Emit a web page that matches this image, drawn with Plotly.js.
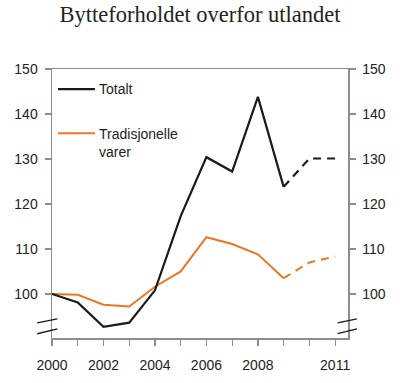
<!DOCTYPE html>
<html>
<head>
<meta charset="utf-8">
<script src="https://cdn.plot.ly/plotly-3.0.1.min.js"></script>
<style>html,body{margin:0;padding:0;background:#fff;}#chart{width:400px;height:383px;}</style>
</head>
<body>
<div id="chart"></div>
<script>
const years = [2000, 2001, 2002, 2003, 2004, 2005, 2006, 2007, 2008, 2009, 2010, 2011];
const totalt = [100, 98.1, 92.7, 93.6, 100.8, 117.3, 130.4, 127.2, 143.8, 123.8, 130.1, 130.1];
const tradisjonelle = [100, 99.8, 97.6, 97.2, 101.6, 105.0, 112.6, 111.1, 108.8, 103.5, 107.0, 108.3];
const lastActual = 2009;
const tickYears = [2000, 2001, 2002, 2003, 2004, 2005, 2006, 2007, 2008, 2009, 2010, 2011];
const tickLabels = ['2000', '', '2002', '', '2004', '', '2006', '', '2008', '', '', '2011'];
const yTicks = [100, 110, 120, 130, 140, 150];

const black = '#1a1a1a';
const orange = '#ee7623';

function split(xs, ys, solid) {
  const xo = [], yo = [];
  xs.forEach((x, i) => {
    if (solid ? x <= lastActual : x >= lastActual) { xo.push(x); yo.push(ys[i]); }
  });
  return {x: xo, y: yo};
}

const tS = split(years, totalt, true), tD = split(years, totalt, false);
const oS = split(years, tradisjonelle, true), oD = split(years, tradisjonelle, false);

const traces = [
  {x: oS.x, y: oS.y, mode: 'lines', line: {color: orange, width: 2}, showlegend: false, hoverinfo: 'skip'},
  {x: oD.x, y: oD.y, mode: 'lines', line: {color: orange, width: 2, dash: '8px,6px'}, showlegend: false, hoverinfo: 'skip'},
  {x: tS.x, y: tS.y, mode: 'lines', line: {color: black, width: 2.2}, showlegend: false, hoverinfo: 'skip'},
  {x: tD.x, y: tD.y, mode: 'lines', line: {color: black, width: 2.2, dash: '8px,6px'}, showlegend: false, hoverinfo: 'skip'},
  {x: [years[0]], y: [totalt[0]], yaxis: 'y2', mode: 'markers', marker: {opacity: 0}, showlegend: false, hoverinfo: 'skip'}
];

const yRange = [90.2, 150];
const axisColor = '#8c8c8c';
const tickFont = {family: 'Liberation Sans, Arial, sans-serif', size: 14, color: '#222'};

const layout = {
  width: 400, height: 383,
  margin: {l: 52, r: 52, t: 69, b: 45},
  paper_bgcolor: '#fff', plot_bgcolor: '#fff',
  title: {text: 'Bytteforholdet overfor utlandet', x: 0.5, xanchor: 'center', yref: 'container', y: 0.964, yanchor: 'middle',
          font: {family: 'Liberation Serif, Times New Roman, serif', size: 22.5, color: '#222'}},
  xaxis: {range: [2000, 2011.5], tickvals: tickYears, ticktext: tickLabels, ticks: 'outside', ticklen: 6,
          tickcolor: axisColor, tickwidth: 1.2, showline: true, linecolor: axisColor, linewidth: 1.5,
          mirror: true, showgrid: false, zeroline: false, tickfont: tickFont, ticklabelstandoff: 8},
  yaxis: {range: yRange, tickvals: yTicks, ticks: 'outside', ticklen: 6, tickcolor: axisColor, tickwidth: 1.2,
          showline: true, linecolor: axisColor, linewidth: 1.5, showgrid: false, zeroline: false,
          tickfont: tickFont, ticklabelstandoff: 4},
  yaxis2: {range: yRange, tickvals: yTicks, overlaying: 'y', side: 'right', ticks: 'outside', ticklen: 6,
           tickcolor: axisColor, tickwidth: 1.2, showline: true, linecolor: axisColor, linewidth: 1.5,
           showgrid: false, zeroline: false, tickfont: tickFont, ticklabelstandoff: 4},
  shapes: [
    {type: 'line', xref: 'paper', yref: 'paper', x0: 0.02, x1: 0.145, y0: 0.925, y1: 0.925, line: {color: black, width: 2.2}},
    {type: 'line', xref: 'paper', yref: 'paper', x0: 0.02, x1: 0.145, y0: 0.761, y1: 0.761, line: {color: orange, width: 2}},
    // axis break marks left
    {type: 'line', xref: 'paper', yref: 'paper', x0: -0.05, x1: 0.018, y0: 0.056, y1: 0.071, line: {color: black, width: 1.4}},
    {type: 'line', xref: 'paper', yref: 'paper', x0: -0.05, x1: 0.018, y0: 0.016, y1: 0.034, line: {color: black, width: 1.4}},
    // axis break marks right
    {type: 'line', xref: 'paper', yref: 'paper', x0: 0.965, x1: 1.03, y0: 0.056, y1: 0.071, line: {color: black, width: 1.4}},
    {type: 'line', xref: 'paper', yref: 'paper', x0: 0.965, x1: 1.03, y0: 0.016, y1: 0.034, line: {color: black, width: 1.4}}
  ],
  annotations: [
    {text: 'Totalt', xref: 'paper', yref: 'paper', x: 0.152, y: 0.925, xanchor: 'left', yanchor: 'middle',
     showarrow: false, font: {family: 'Liberation Sans, Arial, sans-serif', size: 14, color: '#222'}},
    {text: 'Tradisjonelle<br>varer', xref: 'paper', yref: 'paper', x: 0.152, y: 0.797, xanchor: 'left', yanchor: 'top',
     align: 'left', showarrow: false, font: {family: 'Liberation Sans, Arial, sans-serif', size: 14, color: '#222'}}
  ]
};

Plotly.newPlot('chart', traces, layout, {displayModeBar: false, staticPlot: true});
</script>
</body>
</html>
